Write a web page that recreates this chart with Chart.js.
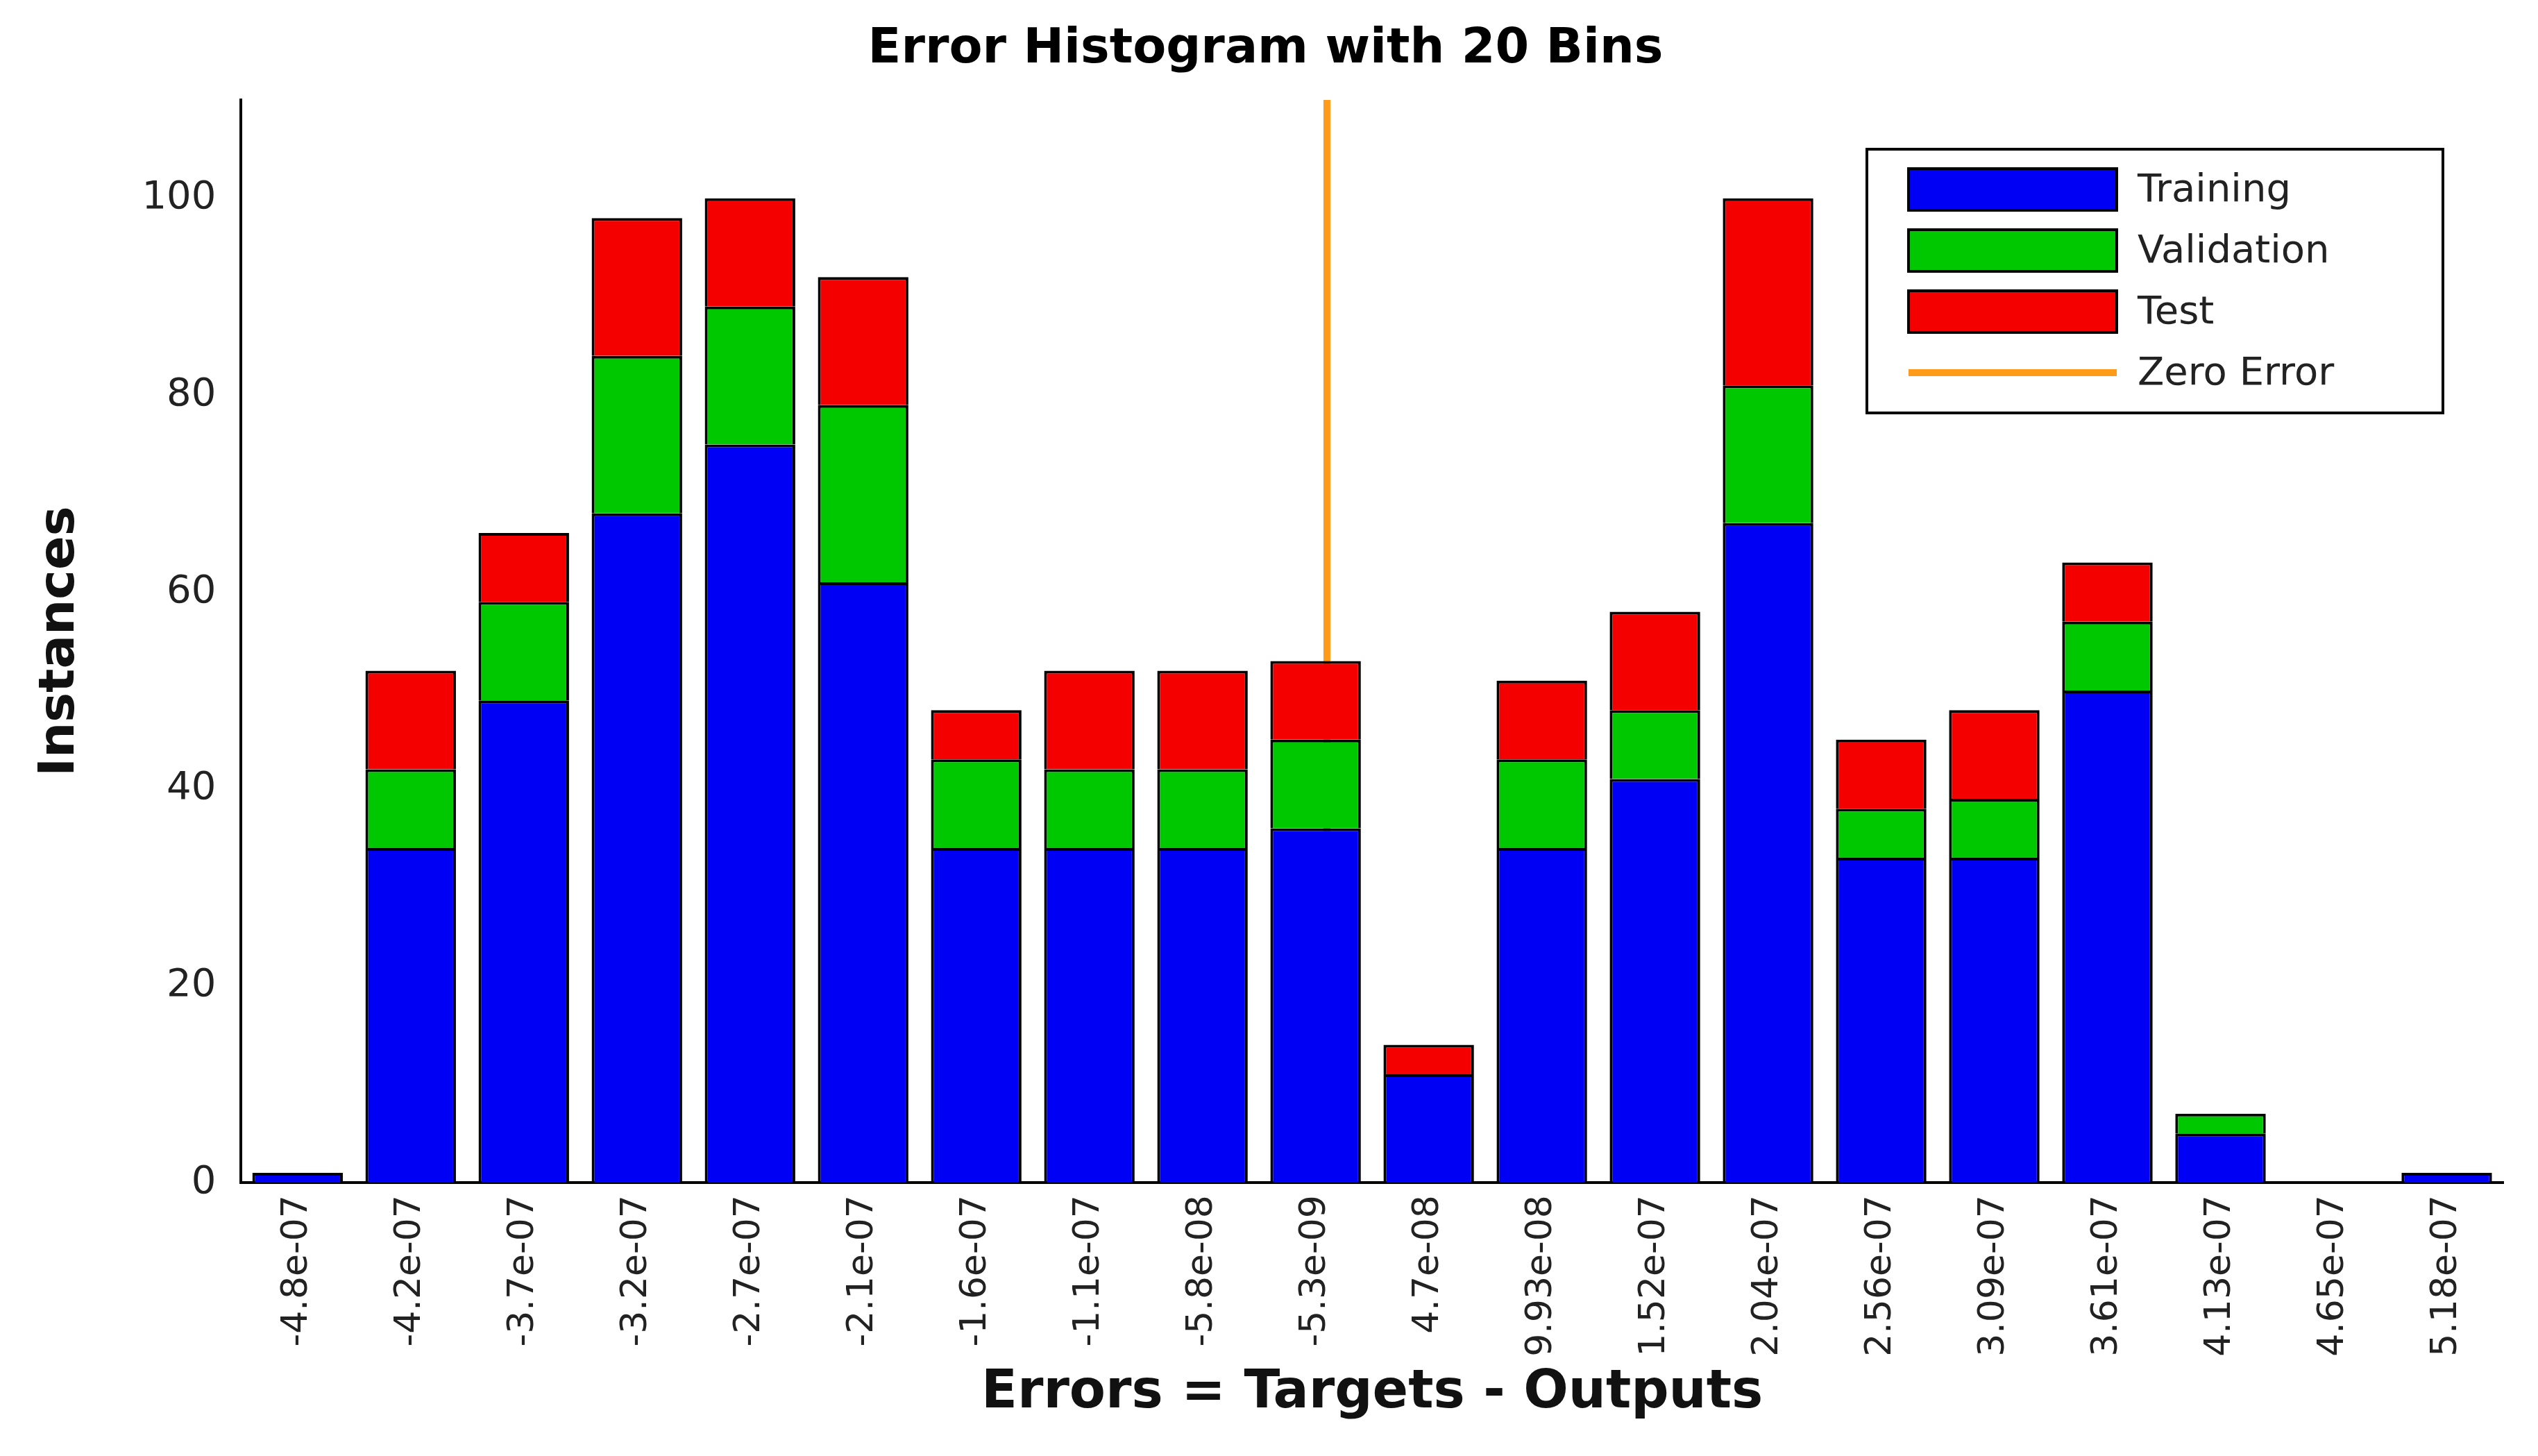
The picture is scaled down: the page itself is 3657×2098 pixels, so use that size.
<!DOCTYPE html>
<html>
<head>
<meta charset="utf-8">
<script src="https://cdn.jsdelivr.net/npm/chart.js@4/dist/chart.umd.min.js"></script>
<style>
  html, body { margin: 0; background: #fff; }
  #wrap { width: 3657px; height: 2098px; }
</style>
</head>
<body>
<div id="wrap"><canvas id="histChart"></canvas></div>
<script>
// bin centres as shown on the x axis
const binLabels = ['-4.8e-07', '-4.2e-07', '-3.7e-07', '-3.2e-07', '-2.7e-07', '-2.1e-07', '-1.6e-07',
    '-1.1e-07', '-5.8e-08', '-5.3e-09', '4.7e-08', '9.93e-08', '1.52e-07', '2.04e-07', '2.56e-07',
    '3.09e-07', '3.61e-07', '4.13e-07', '4.65e-07', '5.18e-07'];

// instances per bin (stacked)
const training   = [1, 34, 49, 68, 75, 61, 34, 34, 34, 36, 11, 34, 41, 67, 33, 33, 50, 5, 0, 1];
const validation = [0, 8, 10, 16, 14, 18, 9, 8, 8, 9, 0, 9, 7, 14, 5, 6, 7, 2, 0, 0];
const test       = [0, 10, 7, 14, 11, 13, 5, 10, 10, 8, 3, 8, 10, 19, 7, 9, 6, 0, 0, 0];

// zero error line position (in bin index units) and its vertical span
const zeroErrorX = 9.1;
const zeroErrorSpan = [0, 110];

const yTicks = [0, 20, 40, 60, 80, 100];

const FONT = '"DejaVu Sans", Verdana, sans-serif';

// legend box drawn inside the plot, top right
const legendBox = {
    id: 'legendBox',
    afterDraw(chart) {
        const ctx = chart.ctx;
        const x = 2690, y = 215, w = 830, h = 380;
        ctx.save();
        ctx.fillStyle = '#fff';
        ctx.fillRect(x, y, w, h);
        ctx.strokeStyle = '#000';
        ctx.lineWidth = 4;
        ctx.strokeRect(x, y, w, h);
        ctx.font = '56px ' + FONT;
        ctx.textBaseline = 'middle';
        chart.data.datasets.forEach((ds, i) => {
            const cy = y + 58 + i * 88;
            if (ds.type === 'line') {
                ctx.strokeStyle = ds.borderColor;
                ctx.lineWidth = 10;
                ctx.beginPath();
                ctx.moveTo(x + 60, cy);
                ctx.lineTo(x + 360, cy);
                ctx.stroke();
            } else {
                ctx.fillStyle = ds.backgroundColor;
                ctx.fillRect(x + 60, cy - 30, 300, 60);
                ctx.strokeStyle = '#000';
                ctx.lineWidth = 4;
                ctx.strokeRect(x + 60, cy - 30, 300, 60);
            }
            ctx.fillStyle = '#222';
            ctx.fillText(ds.label, x + 390, cy + 2);
        });
        ctx.restore();
    }
};

const barStyle = {
    borderColor: '#000', borderWidth: 4, barPercentage: 0.8, categoryPercentage: 1,
    stack: 'bins', grouped: false
};

new Chart(document.getElementById('histChart'), {
    data: {
        labels: binLabels,
        datasets: [
            { type: 'bar', label: 'Training', data: training, backgroundColor: '#0000f5', ...barStyle },
            { type: 'bar', label: 'Validation', data: validation, backgroundColor: '#00c800', ...barStyle },
            { type: 'bar', label: 'Test', data: test, backgroundColor: '#f50000', ...barStyle },
            {
                type: 'line', label: 'Zero Error', xAxisID: 'xz',
                data: zeroErrorSpan.map(v => ({ x: zeroErrorX, y: v })),
                borderColor: '#ff9a1a', borderWidth: 10, pointRadius: 0
            }
        ]
    },
    options: {
        responsive: true,
        maintainAspectRatio: false,
        animation: false,
        layout: { padding: { left: 40, right: 50, top: 20, bottom: 40 } },
        plugins: {
            legend: { display: false },
            tooltip: { enabled: false },
            title: {
                display: true,
                text: 'Error Histogram with 20 Bins',
                color: '#000',
                font: { family: FONT, size: 70, weight: 'bold' },
                padding: { top: 10, bottom: 30 }
            }
        },
        scales: {
            x: {
                stacked: true,
                offset: true,
                grid: { display: false, drawTicks: true, tickLength: 10 },
                border: { color: '#000', width: 4 },
                ticks: {
                    color: '#222', maxRotation: 90, minRotation: 90, padding: 8,
                    font: { family: FONT, size: 52 }
                },
                title: {
                    display: true, text: 'Errors = Targets - Outputs', color: '#111',
                    font: { family: FONT, size: 76, weight: 'bold' },
                    padding: { top: 0 }
                }
            },
            xz: {
                type: 'linear', display: false, min: -0.5, max: 19.5
            },
            y: {
                stacked: true,
                min: 0, max: 110,
                afterBuildTicks: axis => { axis.ticks = yTicks.map(v => ({ value: v })); },
                grid: { display: false, tickLength: 12 },
                border: { color: '#000', width: 4 },
                ticks: {
                    color: '#222', padding: 24,
                    font: { family: FONT, size: 56 }
                },
                title: {
                    display: true, text: 'Instances', color: '#111',
                    font: { family: FONT, size: 72, weight: 'bold' },
                    padding: { bottom: 50 }
                }
            }
        }
    },
    plugins: [legendBox]
});
</script>
</body>
</html>
